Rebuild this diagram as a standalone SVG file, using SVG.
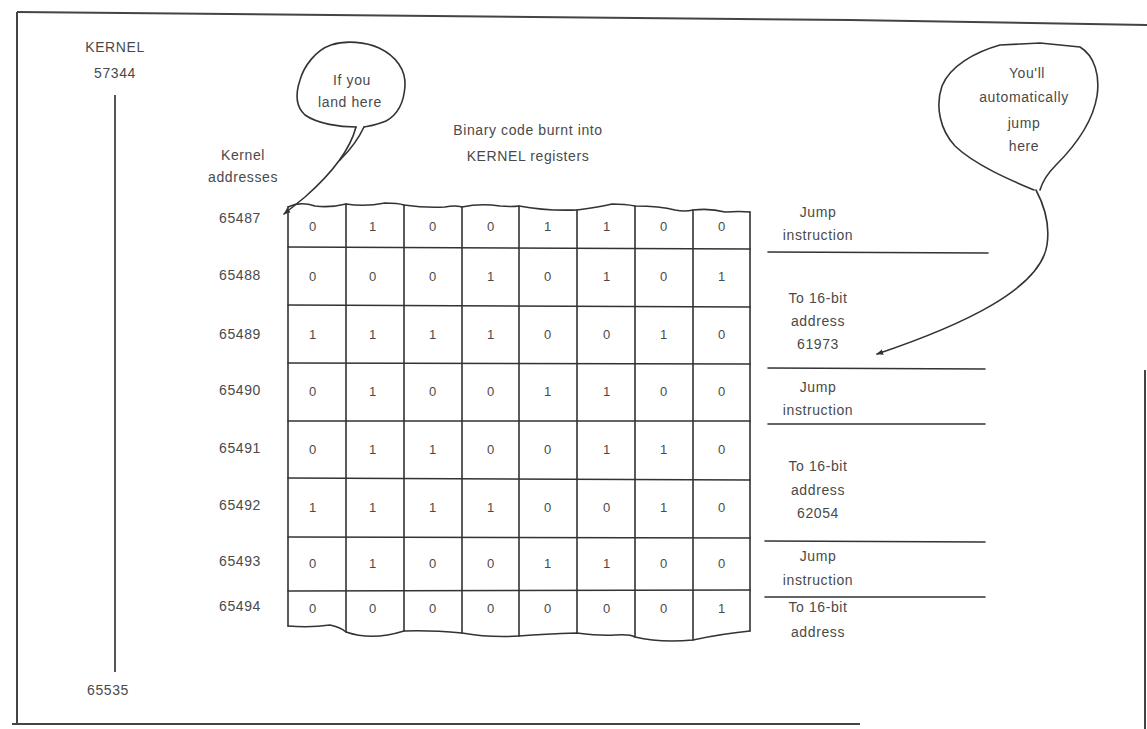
<svg xmlns="http://www.w3.org/2000/svg" width="1147" height="729" viewBox="0 0 1147 729">
<style>
text{font-family:"Liberation Sans","DejaVu Sans",sans-serif;font-size:14px;fill:#4a4a4a;text-anchor:middle;letter-spacing:0.6px}
.d{font-size:13px}
.ln{stroke:#333;stroke-width:1.6;fill:none;stroke-linecap:round}
.fr{stroke:#444;stroke-width:2;fill:none}
</style>
<defs>
<marker id="ah" viewBox="0 0 10 10" refX="9" refY="5" markerWidth="7" markerHeight="7" orient="auto-start-reverse" markerUnits="userSpaceOnUse">
<path d="M0,1 L10,5 L0,9 z" fill="#333"/>
</marker>
</defs>
<rect width="1147" height="729" fill="#fff"/>
<g id="frame">
<path class="fr" d="M17,12 L850,20 L1147,25"/>
<path class="fr" d="M17,12 L17,724"/>
<path class="fr" d="M12,724 L860,724" stroke="#666"/>
<path class="fr" d="M1145,370 L1145,729" stroke="#777"/>
</g>
<g id="kernel-range">
<text x="115" y="52">KERNEL</text>
<text x="115" y="78">57344</text>
<path d="M115,95 L115,672" stroke="#555" stroke-width="2"/>
<text x="108" y="695">65535</text>
</g>
<g id="headers">
<text x="243" y="160">Kernel</text>
<text x="243" y="182">addresses</text>
<text x="528" y="135">Binary code burnt into</text>
<text x="528" y="161">KERNEL registers</text>
</g>
<g id="row-labels">
<text x="240" y="223">65487</text>
<text x="240" y="280">65488</text>
<text x="240" y="339">65489</text>
<text x="240" y="395">65490</text>
<text x="240" y="453">65491</text>
<text x="240" y="510">65492</text>
<text x="240" y="566">65493</text>
<text x="240" y="611">65494</text>
</g>
<g id="grid">
<path class="ln" d="M288,207 Q300,201 315,206 Q330,208 346,204 Q365,207 385,203 Q398,203 404,205 Q425,208 445,207 Q455,205 462,207 Q480,203 500,206 Q512,207 519,206 Q545,211 577,210 Q600,207 612,204 Q625,204 635,206 Q660,206 675,210 Q685,212 693,210 Q710,208 725,212 Q740,211 750,212"/>
<path class="ln" d="M288,626 Q310,628 330,625 Q340,627 346,632 Q372,641 404,631 Q430,630 462,633 Q490,638 519,636 Q545,634 577,633 Q600,636 615,635 Q630,634 635,637 Q660,643 693,640 Q720,634 750,631"/>
<path class="ln" d="M288,207 L288,626 M346,204 L346,632 M404,205 L404,631 M462,207 L462,633 M519,206 L519,636 M577,210 L577,633 M635,206 L635,637 M693,210 L693,640 M750,212 L750,631"/>
<path class="ln" d="M288,247 L750,249 M288,305 L750,307 M288,363 L750,364 M288,421 L750,421 M288,478 L750,480 M288,537 L750,538 M288,591 L750,590"/>
</g>
<g id="bits" class="d">
<text class="d" x="313" y="231">0</text><text class="d" x="373" y="231">1</text><text class="d" x="433" y="231">0</text><text class="d" x="491" y="231">0</text><text class="d" x="548" y="231">1</text><text class="d" x="607" y="231">1</text><text class="d" x="664" y="231">0</text><text class="d" x="722" y="231">0</text>
<text class="d" x="313" y="281">0</text><text class="d" x="373" y="281">0</text><text class="d" x="433" y="281">0</text><text class="d" x="491" y="281">1</text><text class="d" x="548" y="281">0</text><text class="d" x="607" y="281">1</text><text class="d" x="664" y="281">0</text><text class="d" x="722" y="281">1</text>
<text class="d" x="313" y="339">1</text><text class="d" x="373" y="339">1</text><text class="d" x="433" y="339">1</text><text class="d" x="491" y="339">1</text><text class="d" x="548" y="339">0</text><text class="d" x="607" y="339">0</text><text class="d" x="664" y="339">1</text><text class="d" x="722" y="339">0</text>
<text class="d" x="313" y="396">0</text><text class="d" x="373" y="396">1</text><text class="d" x="433" y="396">0</text><text class="d" x="491" y="396">0</text><text class="d" x="548" y="396">1</text><text class="d" x="607" y="396">1</text><text class="d" x="664" y="396">0</text><text class="d" x="722" y="396">0</text>
<text class="d" x="313" y="454">0</text><text class="d" x="373" y="454">1</text><text class="d" x="433" y="454">1</text><text class="d" x="491" y="454">0</text><text class="d" x="548" y="454">0</text><text class="d" x="607" y="454">1</text><text class="d" x="664" y="454">1</text><text class="d" x="722" y="454">0</text>
<text class="d" x="313" y="512">1</text><text class="d" x="373" y="512">1</text><text class="d" x="433" y="512">1</text><text class="d" x="491" y="512">1</text><text class="d" x="548" y="512">0</text><text class="d" x="607" y="512">0</text><text class="d" x="664" y="512">1</text><text class="d" x="722" y="512">0</text>
<text class="d" x="313" y="568">0</text><text class="d" x="373" y="568">1</text><text class="d" x="433" y="568">0</text><text class="d" x="491" y="568">0</text><text class="d" x="548" y="568">1</text><text class="d" x="607" y="568">1</text><text class="d" x="664" y="568">0</text><text class="d" x="722" y="568">0</text>
<text class="d" x="313" y="613">0</text><text class="d" x="373" y="613">0</text><text class="d" x="433" y="613">0</text><text class="d" x="491" y="613">0</text><text class="d" x="548" y="613">0</text><text class="d" x="607" y="613">0</text><text class="d" x="664" y="613">0</text><text class="d" x="722" y="613">1</text>
</g>
<g id="annotations">
<text x="818" y="217">Jump</text>
<text x="818" y="240">instruction</text>
<text x="818" y="303">To 16-bit</text>
<text x="818" y="326">address</text>
<text x="818" y="349">61973</text>
<text x="818" y="392">Jump</text>
<text x="818" y="415">instruction</text>
<text x="818" y="471">To 16-bit</text>
<text x="818" y="495">address</text>
<text x="818" y="518">62054</text>
<text x="818" y="561">Jump</text>
<text x="818" y="585">instruction</text>
<text x="818" y="612">To 16-bit</text>
<text x="818" y="637">address</text>
</g>
<g id="bubble-land">
<path class="ln" d="M356,127 C340,127 318,124 305,115 C295,106 296,92 300,80 C304,66 316,50 331,45 C346,40 366,42 379,48 C396,56 406,70 405,86 C404,101 399,114 386,121 C377,125 369,126 364,127"/>
<text x="352" y="85">If you</text>
<text x="350" y="107">land here</text>
</g>
<g id="bubble-jump">
<path class="ln" d="M1034,190 C1010,180 975,165 955,146 C940,130 935,106 942,86 C950,66 975,52 1000,45 L1040,43 L1080,47 C1095,56 1100,76 1097,96 C1093,121 1075,146 1056,165 C1046,175 1042,183 1040,190"/>
<text x="1027" y="78">You'll</text>
<text x="1024" y="102">automatically</text>
<text x="1024" y="128">jump</text>
<text x="1024" y="151">here</text>
</g>
<g id="connectors">
<path class="ln" d="M356,127 C350,150 330,175 305,197 L284,214" marker-end="url(#ah)"/>
<path class="ln" d="M364,127 C358,140 350,150 340,160"/>
<path class="ln" d="M1036,190 C1044,205 1050,225 1047,245 C1040,290 960,326 877,354" marker-end="url(#ah)"/>
<path class="ln" d="M768,252 L988,253 M768,368 L985,369 M768,424 L985,424 M765,541 L985,542 M765,597 L985,597"/>
</g>
</svg>
